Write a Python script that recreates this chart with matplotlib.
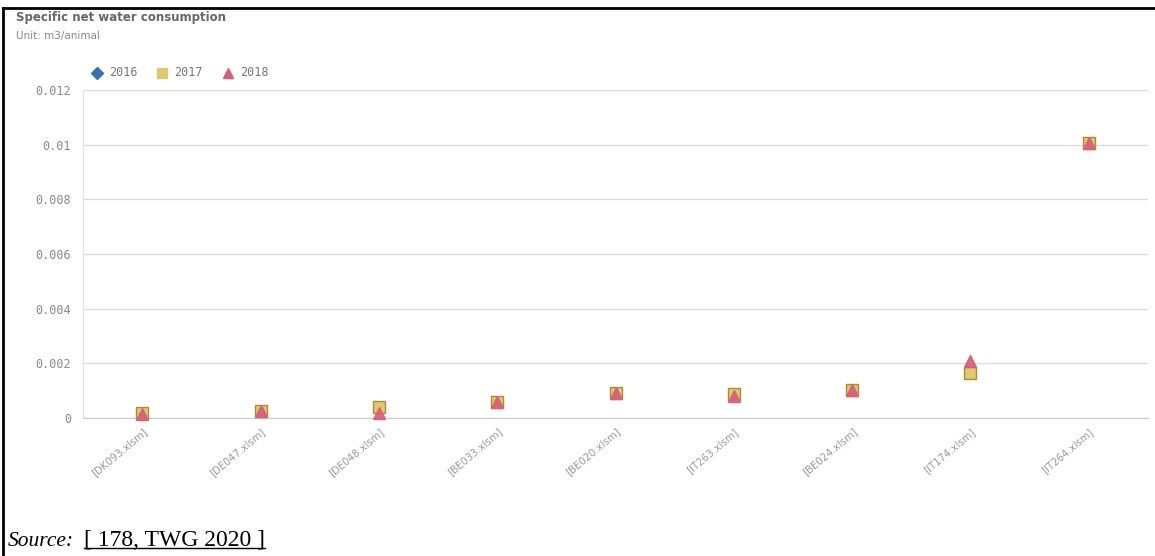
import matplotlib
matplotlib.use('Agg')
import matplotlib.pyplot as plt
import numpy as np
from matplotlib.lines import Line2D

# Data
sites = ['[DK093.xlsm]', '[DE047.xlsm]', '[DE048.xlsm]', '[BE033.xlsm]', '[BE020.xlsm]',
         '[IT263.xlsm]', '[BE024.xlsm]', '[IT174.xlsm]', '[IT264.xlsm]']
vals_2016 = [np.nan] * 9  # no 2016 points visible
vals_2017 = [0.00018, 0.00026, 0.00041, 0.00060, 0.00093, 0.00088, 0.00103, 0.00164, 0.01006]
vals_2018 = [0.00015, 0.00026, 0.00018, 0.00060, 0.00093, 0.00082, 0.00103, 0.00210, 0.01006]
yticks = [0, 0.002, 0.004, 0.006, 0.008, 0.01, 0.012]
ytick_labels = ['0', '0.002', '0.004', '0.006', '0.008', '0.01', '0.012']
years = ['2016', '2017', '2018']

W, H = 1155, 556
fig = plt.figure(figsize=(W / 100, H / 100), dpi=100)
fig.patch.set_facecolor('white')

ax = fig.add_axes([83 / W, 1 - 418 / H, (1148 - 83) / W, (418 - 90) / H])
x = np.arange(len(sites))

ax.plot(x, vals_2016, linestyle='none', marker='D', ms=7, color='#3a6fb0', clip_on=False, zorder=3)
ax.plot(x, vals_2017, linestyle='none', marker='s', ms=9, markerfacecolor='#e0c96c',
        markeredgecolor='#a38f35', markeredgewidth=1, clip_on=False, zorder=4)
ax.plot(x, vals_2018, linestyle='none', marker='^', ms=9, color='#d9607a', alpha=0.95,
        clip_on=False, zorder=5)

ax.set_xlim(-0.5, len(sites) - 0.5)
ax.set_ylim(0, 0.012)
ax.set_yticks(yticks)
ax.set_yticklabels(ytick_labels, family='DejaVu Sans Mono', fontsize=8.5, color='#8a8a8a')
ax.set_xticks(x)
ax.set_xticklabels(sites, rotation=40, ha='right', rotation_mode='anchor',
                   fontsize=7.3, color='#9a9a9a')
ax.tick_params(axis='y', length=0, pad=8.6)
ax.tick_params(axis='x', length=0, pad=6)
ax.grid(axis='y', color='#dcdcdc', linewidth=1)
ax.set_axisbelow(True)
for s in ['top', 'right']:
    ax.spines[s].set_visible(False)
ax.spines['left'].set_color('#e2e2e2')
ax.spines['bottom'].set_color('#cccccc')

# title and unit
fig.text(16 / W, 1 - 18 / H, 'Specific net water consumption', fontsize=8.5,
         fontweight='bold', color='#666666', va='center')
fig.text(16 / W, 1 - 36 / H, 'Unit: m3/animal', fontsize=7.5, color='#888888', va='center')

# legend
leg_y = 1 - 73 / H
markers = [('D', 6, '#3a6fb0', '#3a6fb0'), ('s', 7, '#e0c96c', '#e0c96c'), ('^', 7, '#d9607a', '#d9607a')]
leg_x = [97, 162, 228]
for (m, ms, fc, ec), lx, yr in zip(markers, leg_x, years):
    fig.add_artist(Line2D([lx / W], [leg_y], marker=m, ms=ms, markerfacecolor=fc,
                          markeredgecolor=ec, linestyle='none'))
    fig.text((lx + 12) / W, leg_y, yr, family='DejaVu Sans Mono', fontsize=8.5,
             color='#777777', va='center')

# page frame lines (top and left)
fig.add_artist(Line2D([3 / W, 1], [1 - 8 / H, 1 - 8 / H], color='black', lw=2))
fig.add_artist(Line2D([3 / W, 3 / W], [0, 1 - 8 / H], color='black', lw=2))

# source line
src_y = 1 - 541 / H
t1 = fig.text(8 / W, src_y, 'Source:', family='Liberation Serif', style='italic',
              fontsize=15.5, va='center')
fig.canvas.draw()
r = fig.canvas.get_renderer()
bb = t1.get_window_extent(r)
t2 = fig.text((bb.x1 + 10) / W, src_y, '[ 178, TWG 2020 ]', family='Liberation Serif',
              fontsize=17, va='center')
bb2 = t2.get_window_extent(r)
uy = (bb2.y0 + 4) / H
fig.add_artist(Line2D([bb2.x0 / W, bb2.x1 / W], [uy, uy], color='black', lw=1))

fig.savefig('out.png', dpi=100)
